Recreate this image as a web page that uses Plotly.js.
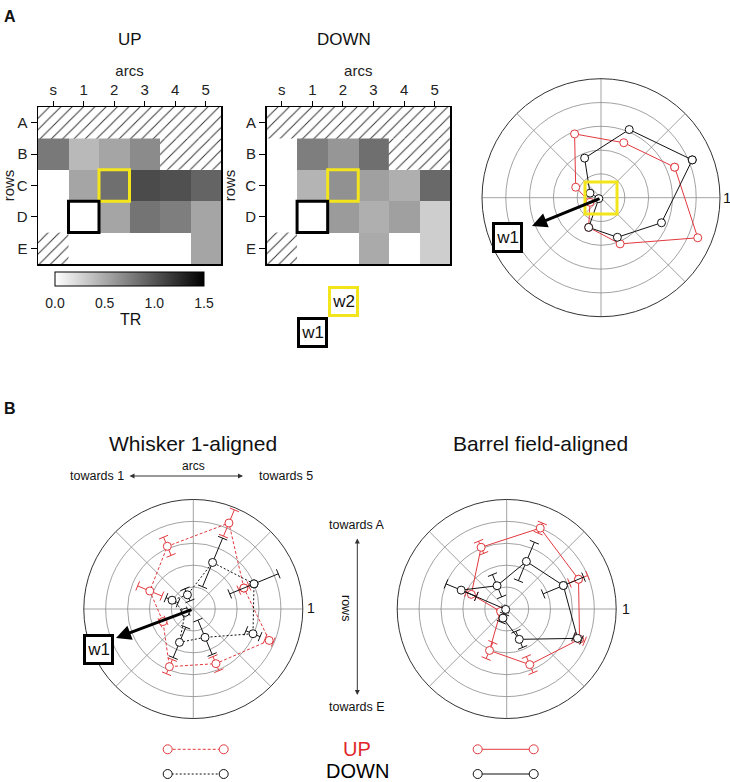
<!DOCTYPE html>
<html>
<head>
<meta charset="utf-8">
<script src="https://cdn.plot.ly/plotly-3.0.1.min.js"></script>
<style>html,body{margin:0;padding:0;background:#fff;}#chart{width:730px;height:782px;}</style>
</head>
<body>
<div id="chart"></div>
<script>
// ---------- DATA ----------
const arcLabels = ['s', '1', '2', '3', '4', '5'];
const rowLabels = ['A', 'B', 'C', 'D', 'E'];
// TR values per row (A..E) and arc (s..5); null = hatched (no data)
const upTR = [
  [null, null, null, null, null, null],
  [0.79, 0.41, 0.53, 0.68, null, null],
  [0, 0.53, 0.85, 1.06, 1.03, 0.91],
  [0, 0, 0.53, 0.82, 0.76, 0.53],
  [null, 0, 0, 0, 0, 0.53]
];
const downTR = [
  [null, null, null, null, null, null],
  [0, 0.76, 0.62, 0.85, null, null],
  [0, 0.44, 0.65, 0.56, 0.47, 0.88],
  [0, 0, 0.59, 0.47, 0.56, 0.29],
  [null, 0, 0, 0.50, 0, 0.29]
];
const w1Cell = ['1', 'D'];
const w2Cell = ['2', 'C'];
const cbTicks = [0, 0.5, 1.0, 1.5];

const thetaDirs = [22.5, 67.5, 112.5, 157.5, 202.5, 247.5, 292.5, 337.5];
// Panel A polar
const upA = [0.67, 0.50, 0.58, 0.23, 0.10, 0.27, 0.42, 0.88];
const downA = [0.83, 0.62, 0.36, 0.10, 0.02, 0.27, 0.36, 0.55];
// Panel B: whisker 1-aligned
const upW1 = [0.50, 0.85, 0.62, 0.43, 0.30, 0.57, 0.54, 0.75];
const upW1Err = [0.05, 0.13, 0.09, 0.12, 0.03, 0.07, 0.07, 0.04];
const downW1 = [0.60, 0.46, 0.14, 0.21, 0.08, 0.33, 0.28, 0.59];
const downW1Err = [0.24, 0.24, 0.06, 0.06, 0.03, 0.15, 0.17, 0.07];
// Panel B: barrel field-aligned
const upBF = [0.71, 0.80, 0.61, 0.35, 0.06, 0.41, 0.55, 0.72];
const upBFErr = [0.09, 0.05, 0.06, 0.05, 0.03, 0.08, 0.08, 0.05];
const downBF = [0.56, 0.47, 0.23, 0.45, 0.01, 0.09, 0.30, 0.70];
const downBFErr = [0.20, 0.19, 0.11, 0.15, 0.02, 0.04, 0.08, 0.04];

// ---------- HELPERS ----------
const W = 730, H = 782;
const FONT = 'Liberation Sans, Arial, Helvetica, sans-serif';
const RED = '#e0393e';
const YEL = '#f3e51c';
const px = x => x / W;
const py = y => 1 - y / H;
const idx = arr => arr.map((_, i) => i);

function hatchRuns(z) {
  const y = [], x = [], base = [];
  z.forEach((row, r) => {
    let c = 0;
    while (c < row.length) {
      if (row[c] === null) {
        let s = c;
        while (c < row.length && row[c] === null) c++;
        y.push(r); base.push(s - 0.5); x.push(c - s);
      } else c++;
    }
  });
  return {y, x, base};
}

function heatTraces(z, xa, ya, showScale) {
  const hr = hatchRuns(z);
  const hm = {
    type: 'heatmap', z: z, x: idx(arcLabels), y: idx(rowLabels),
    xaxis: xa, yaxis: ya, zmin: 0, zmax: 1.5,
    colorscale: [[0, '#ffffff'], [1, '#000000']],
    showscale: showScale, hoverinfo: 'skip'
  };
  if (showScale) {
    hm.colorbar = {
      orientation: 'h', x: px(129.5), xanchor: 'center', len: 149 / W, lenmode: 'fraction',
      y: py(272), yanchor: 'top', thickness: 14, thicknessmode: 'pixels',
      outlinewidth: 1, outlinecolor: '#000', xpad: 0, ypad: 0,
      tickvals: cbTicks, tickformat: '.1f', ticks: 'outside', ticklen: 5,
      tickcolor: 'rgba(0,0,0,0)',
      tickfont: {size: 14, family: FONT, color: '#222'},
      title: {text: ''}
    };
  }
  const hb = {
    type: 'bar', orientation: 'h', y: hr.y, x: hr.x, base: hr.base, width: 1,
    xaxis: xa, yaxis: ya, hoverinfo: 'skip',
    marker: {color: 'white', line: {width: 0},
      pattern: {shape: '/', fgcolor: '#333', bgcolor: 'white', size: 8, solidity: 0.12}}
  };
  return [hm, hb];
}

function polarLine(r, color, dash, sub) {
  return {
    type: 'scatterpolar', subplot: sub, mode: 'lines+markers',
    r: r.concat([r[0]]), theta: thetaDirs.concat([thetaDirs[0]]),
    line: {color: color, width: 1, dash: dash},
    marker: {symbol: 'circle', size: 8, color: 'white', line: {color: color, width: 1}},
    hoverinfo: 'skip', cliponaxis: false
  };
}

function polarErr(r, e, color, sub) {
  const rr = [], tt = [], ang = [];
  r.forEach((v, i) => {
    rr.push(Math.max(0, v - e[i]), v + e[i], null);
    tt.push(thetaDirs[i], thetaDirs[i], null);
    ang.push(-thetaDirs[i], -thetaDirs[i], 0);
  });
  return {
    type: 'scatterpolar', subplot: sub, mode: 'lines+markers', r: rr, theta: tt,
    line: {color: color, width: 1}, connectgaps: false,
    marker: {symbol: 'line-ns', size: 7, angle: ang, color: color, line: {color: color, width: 1}},
    hoverinfo: 'skip', cliponaxis: false
  };
}

function polarLayout(x0, x1, y0, y1) {
  return {
    domain: {x: [px(x0), px(x1)], y: [py(y1), py(y0)]},
    bgcolor: 'rgba(0,0,0,0)',
    radialaxis: {range: [0, 1], tickvals: [0.2, 0.4, 0.6, 0.8, 1.0], showticklabels: false,
      ticks: '', showline: false, gridcolor: '#8a8a8a', gridwidth: 0.8},
    angularaxis: {dtick: 45, showticklabels: false, ticks: '', showline: true,
      linecolor: '#333', linewidth: 1, gridcolor: '#8a8a8a', gridwidth: 0.8}
  };
}

function heatAxes(x0, x1) {
  const xa = {
    domain: [px(x0), px(x1)], range: [-0.5, 5.5], side: 'top',
    tickvals: idx(arcLabels), ticktext: arcLabels, ticks: 'outside', ticklen: 5, tickwidth: 1,
    tickcolor: '#000', showline: true, mirror: true, linecolor: '#000', linewidth: 1.5,
    showgrid: false, zeroline: false, fixedrange: true,
    tickfont: {size: 15, family: FONT, color: '#222'},
    title: {text: 'arcs', standoff: 0, font: {size: 15, family: FONT, color: '#222'}}
  };
  const ya = {
    domain: [py(264), py(107)], range: [4.5, -0.5],
    tickvals: idx(rowLabels), ticktext: rowLabels, ticks: 'outside', ticklen: 6, tickwidth: 1,
    tickcolor: '#000', showline: true, mirror: true, linecolor: '#000', linewidth: 1.5,
    showgrid: false, zeroline: false, fixedrange: true,
    tickfont: {size: 15, family: FONT, color: '#222'},
    title: {text: 'rows', standoff: 6, font: {size: 15, family: FONT, color: '#222'}}
  };
  return [xa, ya];
}

function cellBox(cell, xr, yr, color) {
  const c = arcLabels.indexOf(cell[0]), r = rowLabels.indexOf(cell[1]);
  return {type: 'rect', xref: xr, yref: yr, x0: c - 0.5, x1: c + 0.5, y0: r - 0.5, y1: r + 0.5,
    line: {color: color, width: 3}, fillcolor: 'rgba(0,0,0,0)'};
}

function txt(text, x, y, size, opts) {
  return Object.assign({text: text, xref: 'paper', yref: 'paper', x: px(x), y: py(y),
    showarrow: false, xanchor: 'center', yanchor: 'middle',
    font: {size: size, family: FONT, color: '#111'}}, opts || {});
}

function wBox(label, cx, cy, color) {
  return {text: label, xref: 'paper', yref: 'paper', x: px(cx), y: py(cy), showarrow: false,
    xanchor: 'center', yanchor: 'middle', width: 25, height: 25, borderpad: 0,
    bordercolor: color, borderwidth: 3, bgcolor: 'white',
    font: {size: 17, family: FONT, color: '#111'}};
}

function arrow(hx, hy, tx, ty, width, head, both, color) {
  return {text: '', xref: 'paper', yref: 'paper', x: px(hx), y: py(hy), ax: tx - hx, ay: ty - hy,
    axref: 'pixel', ayref: 'pixel', showarrow: true, arrowhead: head, arrowsize: 1,
    arrowwidth: width, arrowcolor: color || '#000', arrowside: both ? 'end+start' : 'end',
    standoff: 0, startstandoff: 0};
}

function legendSample(x0, x1, y, color, dash) {
  const s = [{type: 'line', xref: 'paper', yref: 'paper', x0: px(x0), x1: px(x1), y0: py(y), y1: py(y),
    line: {color: color, width: 1, dash: dash}}];
  [x0, x1].forEach(x => s.push({type: 'circle', xref: 'paper', yref: 'paper',
    x0: px(x - 4.5), x1: px(x + 4.5), y0: py(y + 4.5), y1: py(y - 4.5),
    line: {color: color, width: 1}, fillcolor: 'white'}));
  return s;
}

// ---------- TRACES ----------
const traces = [
  ...heatTraces(upTR, 'x', 'y', true),
  ...heatTraces(downTR, 'x2', 'y2', false),
  polarLine(upA, RED, 'solid', 'polar'),
  polarLine(downA, '#111', 'solid', 'polar'),
  polarErr(upW1, upW1Err, RED, 'polar2'),
  polarLine(upW1, RED, '3px,2px', 'polar2'),
  polarErr(downW1, downW1Err, '#111', 'polar2'),
  polarLine(downW1, '#111', '2px,2px', 'polar2'),
  polarErr(upBF, upBFErr, RED, 'polar3'),
  polarLine(upBF, RED, 'solid', 'polar3'),
  polarErr(downBF, downBFErr, '#111', 'polar3'),
  polarLine(downBF, '#111', 'solid', 'polar3')
];

const [xa1, ya1] = heatAxes(38, 221);
const [xa2, ya2] = heatAxes(266.5, 450);
xa1.anchor = 'y'; ya1.anchor = 'x';
xa2.anchor = 'y2'; ya2.anchor = 'x2';

const shapes = [
  cellBox(w2Cell, 'x', 'y', YEL), cellBox(w1Cell, 'x', 'y', '#000'),
  cellBox(w2Cell, 'x2', 'y2', YEL), cellBox(w1Cell, 'x2', 'y2', '#000'),
  {type: 'rect', xref: 'paper', yref: 'paper', x0: px(585), x1: px(617), y0: py(214), y1: py(182),
    line: {color: YEL, width: 3}, fillcolor: 'rgba(0,0,0,0)'},
  ...legendSample(167.7, 223.7, 749.3, RED, '3px,2px'),
  ...legendSample(167.7, 223.7, 774, '#111', '2px,2px'),
  ...legendSample(477.7, 533.7, 749.3, RED, 'solid'),
  ...legendSample(477.7, 533.7, 774, '#111', 'solid')
];

const annotations = [
  txt('<b>A</b>', 10, 17, 16),
  txt('<b>B</b>', 10, 408, 16),
  txt('UP', 130, 39, 17),
  txt('DOWN', 344, 39, 17),
  txt('TR', 130, 320, 16),
  wBox('w2', 343, 301.5, YEL),
  wBox('w1', 312.5, 332.5, '#000'),
  arrow(532, 226, 601, 198, 3, 2, false),
  wBox('w1', 507.5, 237, '#000'),
  txt('1', 727, 197, 15),
  txt('Whisker 1-aligned', 193, 443, 21),
  txt('Barrel field-aligned', 540, 443, 21),
  txt('arcs', 193, 466, 12),
  arrow(243, 476, 128, 476, 1, 2, true, '#333'),
  txt('towards 1', 126, 476, 12.5, {xanchor: 'right'}),
  txt('towards 5', 257, 476, 12.5, {xanchor: 'left'}),
  arrow(116, 638, 193, 609, 3, 2, false),
  wBox('w1', 98, 649, '#000'),
  txt('1', 310.5, 608, 14),
  txt('1', 625.5, 609, 14),
  txt('towards A', 357, 525, 12.5),
  txt('towards E', 357, 707, 12.5),
  arrow(357.3, 695, 357.3, 537, 1, 2, true, '#333'),
  txt('rows', 346, 608, 12.5, {textangle: 90}),
  txt('UP', 357, 749, 20, {font: {size: 20, family: FONT, color: '#e0252b'}}),
  txt('DOWN', 357, 771, 20, {font: {size: 20, family: FONT, color: '#000'}})
];

const layout = {
  width: W, height: H, margin: {l: 0, r: 0, t: 0, b: 0, pad: 0},
  paper_bgcolor: 'white', plot_bgcolor: 'white', showlegend: false,
  barmode: 'overlay', font: {family: FONT, color: '#222'},
  xaxis: xa1, yaxis: ya1, xaxis2: xa2, yaxis2: ya2,
  polar: polarLayout(482, 720, 78.7, 316.7),
  polar2: polarLayout(83.8, 302.8, 499.5, 718.5),
  polar3: polarLayout(397.2, 616.2, 499.5, 718.5),
  shapes: shapes, annotations: annotations
};

Plotly.newPlot('chart', traces, layout, {staticPlot: true, displayModeBar: false});
</script>
</body>
</html>
